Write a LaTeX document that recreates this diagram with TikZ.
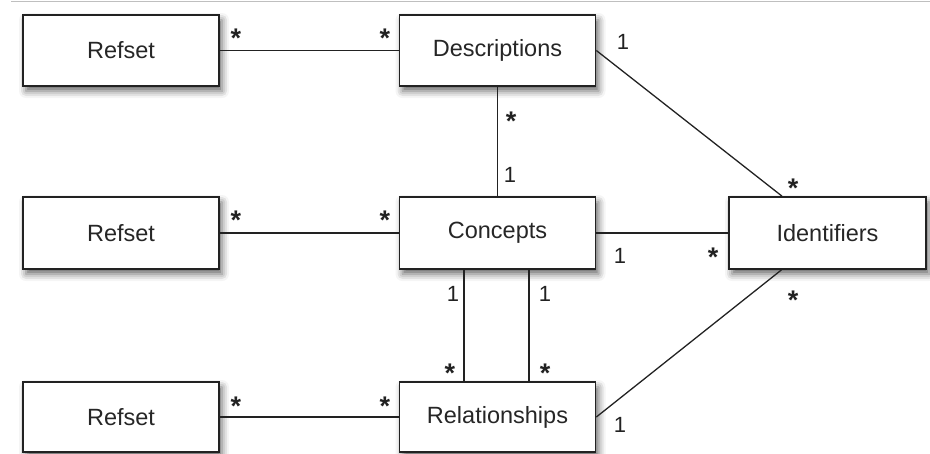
\documentclass[tikz,border=0pt]{standalone}
\usepackage{fontspec}
\setmainfont{Liberation Sans}
\usetikzlibrary{shadows.blur}
\definecolor{ink}{HTML}{222222}
\definecolor{txt}{HTML}{262626}
\tikzset{
  x=1pt, y=-1pt,
  entity/.style={draw=ink, line width=1.7pt, fill=white, minimum width=196pt, minimum height=71pt,
    inner sep=0pt, font=\fontsize{23.5}{26}\selectfont, text=txt,
    blur shadow={shadow xshift=3pt, shadow yshift=-5pt, shadow blur radius=7pt, shadow opacity=60}},
  link/.style={draw=ink, line width=1.3pt},
  mult/.style={font=\fontsize{22}{24}\selectfont, text=ink, inner sep=0pt},
  star/.style={font=\fontsize{27}{27}\bfseries\selectfont, text=ink, inner sep=0pt}
}
\begin{document}
\begin{tikzpicture}
\useasboundingbox (0,0) rectangle (930,453);
\draw[gray!50, line width=0.8pt] (11,1) -- (930,1);

\node[entity] (r1) at (121,50.5) {Refset};
\node[entity] (desc) at (497.5,50.5) {Descriptions};
\node[entity, minimum height=72pt] (r2) at (121,233) {Refset};
\node[entity, minimum height=72pt] (con) at (497.5,233) {Concepts};
\node[entity, minimum height=72pt, minimum width=197pt] (idf) at (827.5,233) {Identifiers};
\node[entity, minimum height=70pt] (r3) at (121,417) {Refset};
\node[entity, minimum height=70pt] (rel) at (497.5,417) {Relationships};

\draw[link] (r1.east) -- (desc.west);
\draw[link] (r2.east) -- (con.west);
\draw[link] (r3.east) -- (rel.west);
\draw[link] (desc.south) -- (con.north);
\draw[link] (con.east) -- (idf.west);
\draw[link] ([xshift=-33.5pt]con.south) -- ([xshift=-33.5pt]rel.north);
\draw[link] ([xshift=31.5pt]con.south) -- ([xshift=31.5pt]rel.north);
\draw[link] (desc.east) -- ([xshift=-45.5pt]idf.north);
\draw[link] (rel.east) -- ([xshift=-46pt]idf.south);

\node[star] (s1) at (236,38) {*};
\node[star] (s2) at (385,38) {*};
\node[mult] (m1) at (623,42) {1};
\node[star] (s3) at (511,121) {*};
\node[mult] (m2) at (510,175) {1};
\node[star] (s4) at (793,188) {*};
\node[star] (s5) at (236,220) {*};
\node[star] (s6) at (385,220) {*};
\node[mult] (m3) at (620,256) {1};
\node[star] (s7) at (713,257) {*};
\node[mult] (m4) at (453,294) {1};
\node[mult] (m5) at (545,294) {1};
\node[star] (s8) at (450,373) {*};
\node[star] (s9) at (545,373) {*};
\node[star] (s10) at (793,300) {*};
\node[star] (s11) at (236,406) {*};
\node[star] (s12) at (385,406) {*};
\node[mult] (m6) at (620,425) {1};
\end{tikzpicture}
\end{document}
